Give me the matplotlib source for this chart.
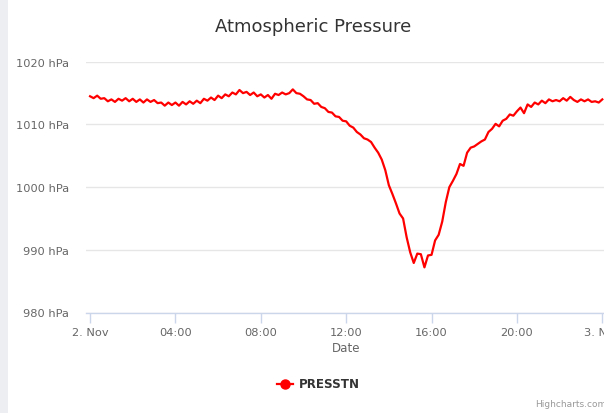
import matplotlib.pyplot as plt
import numpy as np
from matplotlib.lines import Line2D
from matplotlib.patches import Rectangle

# pressure readings every 10 minutes, 2. Nov 00:00 -> 3. Nov 00:00
pressure = [
    1014.5, 1014.2, 1014.6, 1014.1, 1014.2, 1013.7,
    1014.0, 1013.6, 1014.1, 1013.8, 1014.2, 1013.7,
    1014.1, 1013.6, 1014.0, 1013.5, 1014.0, 1013.6,
    1013.9, 1013.4, 1013.5, 1013.0, 1013.5, 1013.1,
    1013.5, 1013.0, 1013.6, 1013.2, 1013.7, 1013.3,
    1013.8, 1013.4, 1014.1, 1013.8, 1014.3, 1013.9,
    1014.6, 1014.2, 1014.8, 1014.5, 1015.1, 1014.8,
    1015.5, 1015.0, 1015.2, 1014.7, 1015.1, 1014.5,
    1014.8, 1014.3, 1014.7, 1014.1, 1014.9, 1014.7,
    1015.1, 1014.8, 1015.0, 1015.6, 1015.0, 1014.9,
    1014.5, 1014.0, 1013.9, 1013.3, 1013.4, 1012.8,
    1012.6, 1012.0, 1011.9, 1011.3, 1011.2, 1010.6,
    1010.5, 1009.8, 1009.5, 1008.8, 1008.4, 1007.8,
    1007.6, 1007.2, 1006.3, 1005.5, 1004.4, 1002.7,
    1000.3, 998.9, 997.4, 995.8, 995.0, 992.0,
    989.6, 987.9, 989.4, 989.3, 987.2, 989.1,
    989.2, 991.5, 992.4, 994.5, 997.6, 1000.0,
    1001.0, 1002.1, 1003.7, 1003.4, 1005.5, 1006.3,
    1006.5, 1006.9, 1007.3, 1007.6, 1008.8, 1009.3,
    1010.1, 1009.7, 1010.6, 1010.9, 1011.6, 1011.4,
    1012.1, 1012.7, 1011.8, 1013.2, 1012.8, 1013.5,
    1013.2, 1013.8, 1013.4, 1014.0, 1013.7, 1013.9,
    1013.7, 1014.2, 1013.8, 1014.4, 1013.9, 1013.6,
    1014.0, 1013.7, 1014.0, 1013.6, 1013.7, 1013.5,
    1014.0,
]
hours = np.arange(len(pressure)) / 6.0

xtick_hours = [0, 4, 8, 12, 16, 20, 24]
xtick_labels = ['2. Nov', '04:00', '08:00', '12:00', '16:00', '20:00', '3. Nov']
ytick_values = [980, 990, 1000, 1010, 1020]

W, H = 604, 414
fig = plt.figure(figsize=(W / 100, H / 100), dpi=100)
plt.rcParams['font.family'] = ['DejaVu Sans']

# page background strip on the left
fig.patches.append(Rectangle((0, 0), 8 / W, 1, transform=fig.transFigure,
                             facecolor='#eceef2', edgecolor='none', zorder=-5))

ax = fig.add_axes([86 / W, (H - 313.5) / H, (W - 86) / W, 250.7 / H])
ax.plot(hours, pressure, color='#ff0000', linewidth=1.6, solid_joinstyle='round', zorder=3)

ax.set_xlim(-0.19, 24.08)
ax.set_ylim(980, 1020)
ax.set_yticks(ytick_values)
ax.set_yticklabels([f'{v} hPa' for v in ytick_values])
ax.set_xticks(xtick_hours)
ax.set_xticklabels(xtick_labels)

ax.grid(axis='y', color='#e6e6e6', linewidth=1)
ax.set_axisbelow(True)
for s in ['top', 'right', 'left']:
    ax.spines[s].set_visible(False)
ax.spines['bottom'].set_color('#ccd6eb')
ax.spines['bottom'].set_linewidth(1)
ax.tick_params(axis='x', colors='#ccd6eb', length=7.5, width=1, labelcolor='#666666',
               labelsize=8.2, pad=3)
ax.tick_params(axis='y', length=0, labelcolor='#666666', labelsize=8.2, pad=12)

fig.text(313 / W, 1 - 27 / H, 'Atmospheric Pressure', ha='center', va='center',
         fontsize=13, color='#333333')
fig.text(346 / W, 1 - 349 / H, 'Date', ha='center', va='center',
         fontsize=8.6, color='#666666')

# legend
fig.lines.append(Line2D([277 / W, 293 / W], [1 - 385 / H, 1 - 385 / H],
                        transform=fig.transFigure, color='#ff0000', linewidth=1.6,
                        marker='o', markevery=[0], markersize=0))
fig.lines.append(Line2D([285 / W], [1 - 385 / H], transform=fig.transFigure,
                        color='#ff0000', marker='o', markersize=6.5, linestyle='none'))
fig.text(299 / W, 1 - 385 / H, 'PRESSTN', ha='left', va='center',
         fontsize=8.6, fontweight='bold', color='#333333')

fig.text(606 / W, 1 - 405 / H, 'Highcharts.com', ha='right', va='center',
         fontsize=6.5, color='#999999')

fig.savefig('out.png', dpi=100)
